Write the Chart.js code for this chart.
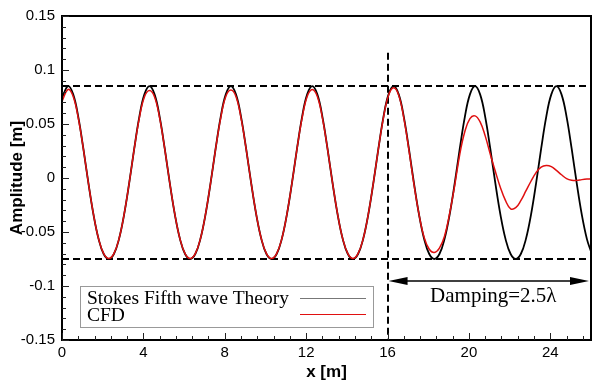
<!DOCTYPE html>
<html>
<head>
<meta charset="utf-8">
<script src="https://cdn.jsdelivr.net/npm/chart.js@4.4.1/dist/chart.umd.min.js"></script>
<style>
  html, body { margin: 0; padding: 0; background: #fff; }
</style>
</head>
<body>
<canvas id="chart" width="592" height="387"></canvas>
<script>
// x positions [m] where the wave elevation was read
var xs = [0,
  0.3, 0.55, 0.8, 1.05, 1.3, 1.55, 1.8, 2.05, 2.3, 2.55, 2.8, 3.05, 3.3, 3.55, 3.8, 4.05,
  4.3, 4.55, 4.8, 5.05, 5.3, 5.55, 5.8, 6.05, 6.3, 6.55, 6.8, 7.05, 7.3, 7.55, 7.8, 8.05,
  8.3, 8.55, 8.8, 9.05, 9.3, 9.55, 9.8, 10.05, 10.3, 10.55, 10.8, 11.05, 11.3, 11.55, 11.8, 12.05,
  12.3, 12.55, 12.8, 13.05, 13.3, 13.55, 13.8, 14.05, 14.3, 14.55, 14.8, 15.05, 15.3, 15.55, 15.8, 16.05,
  16.3, 16.55, 16.8, 17.05, 17.3, 17.55, 17.8, 18.05, 18.3, 18.55, 18.8, 19.05, 19.3, 19.55, 19.8, 20.05,
  20.3, 20.55, 20.8, 21.05, 21.3, 21.55, 21.8, 22.05, 22.3, 22.55, 22.8, 23.05, 23.3, 23.55, 23.8, 24.05,
  24.3, 24.55, 24.8, 25.05, 25.3, 25.55, 25.8, 26];

// Stokes fifth order theory [m]
var stokes = [0.074,
  0.085, 0.0774, 0.0566, 0.0271, -0.005, -0.0341, -0.0566, -0.0704, -0.075, -0.0704, -0.0566, -0.0341, -0.005, 0.0271, 0.0566, 0.0774,
  0.085, 0.0774, 0.0566, 0.0271, -0.005, -0.0341, -0.0566, -0.0704, -0.075, -0.0704, -0.0566, -0.0341, -0.005, 0.0271, 0.0566, 0.0774,
  0.085, 0.0774, 0.0566, 0.0271, -0.005, -0.0341, -0.0566, -0.0704, -0.075, -0.0704, -0.0566, -0.0341, -0.005, 0.0271, 0.0566, 0.0774,
  0.085, 0.0774, 0.0566, 0.0271, -0.005, -0.0341, -0.0566, -0.0704, -0.075, -0.0704, -0.0566, -0.0341, -0.005, 0.0271, 0.0566, 0.0774,
  0.085, 0.0774, 0.0566, 0.0271, -0.005, -0.0341, -0.0566, -0.0704, -0.075, -0.0704, -0.0566, -0.0341, -0.005, 0.0271, 0.0566, 0.0774,
  0.085, 0.0774, 0.0566, 0.0271, -0.005, -0.0341, -0.0566, -0.0704, -0.075, -0.0704, -0.0566, -0.0341, -0.005, 0.0271, 0.0566, 0.0774,
  0.085, 0.0774, 0.0566, 0.0271, -0.005, -0.0341, -0.0566, -0.068];

// CFD result [m]
var cfd = [0.071,
  0.082, 0.0755, 0.0555, 0.027, -0.005, -0.034, -0.0565, -0.070, -0.0745, -0.070, -0.0565, -0.034, -0.005, 0.027, 0.0555, 0.075,
  0.081, 0.075, 0.0555, 0.027, -0.005, -0.034, -0.0565, -0.070, -0.0745, -0.070, -0.0565, -0.034, -0.005, 0.027, 0.0555, 0.0755,
  0.0815, 0.0755, 0.0555, 0.027, -0.005, -0.034, -0.0565, -0.070, -0.0745, -0.070, -0.0565, -0.034, -0.005, 0.027, 0.0555, 0.0755,
  0.082, 0.0755, 0.0555, 0.027, -0.005, -0.034, -0.0565, -0.070, -0.0745, -0.070, -0.0565, -0.034, -0.005, 0.027, 0.056, 0.0765,
  0.0835, 0.0765, 0.0555, 0.026, -0.006, -0.034, -0.055, -0.066, -0.069, -0.065, -0.054, -0.033, -0.007, 0.022, 0.043, 0.055,
  0.0575, 0.052, 0.039, 0.022, 0.006, -0.009, -0.021, -0.0285, -0.0275, -0.021, -0.012, -0.003, 0.005, 0.010, 0.0115, 0.0105,
  0.007, 0.003, -0.0005, -0.002, -0.0022, -0.0015, -0.001, -0.0008];

var xTicks = [0, 4, 8, 12, 16, 20, 24];
var yTicks = [-0.15, -0.1, -0.05, 0, 0.05, 0.1, 0.15];
var yTickLabels = ['-0.15', '-0.1', '-0.05', '0', '0.05', '0.1', '0.15'];

var crestLevel = 0.085;
var troughLevel = -0.075;
var dampStart = 16;
var dampEnd = 26;
var dampLabel = 'Damping=2.5\u03bb';

function toPoints(ys) {
  return xs.map(function(x, i) { return {x: x, y: ys[i]}; });
}

var decorations = {
  id: 'decorations',
  beforeDatasetsDraw: function(chart) {
    var ctx = chart.ctx, a = chart.chartArea;
    var sx = chart.scales.x, sy = chart.scales.y;
    ctx.save();
    ctx.strokeStyle = '#000';
    ctx.lineWidth = 2;
    ctx.setLineDash([7, 4]);
    [crestLevel, troughLevel].forEach(function(v) {
      var py = Math.round(sy.getPixelForValue(v));
      ctx.beginPath();
      ctx.moveTo(a.left, py);
      ctx.lineTo(a.right, py);
      ctx.stroke();
    });
    var px = Math.round(sx.getPixelForValue(dampStart));
    ctx.beginPath();
    ctx.moveTo(px, sy.getPixelForValue(0.116));
    ctx.lineTo(px, a.bottom);
    ctx.stroke();
    ctx.restore();
  },
  afterDatasetsDraw: function(chart) {
    var ctx = chart.ctx, a = chart.chartArea;
    var sx = chart.scales.x, sy = chart.scales.y;
    ctx.save();

    // double arrow for damping zone
    var ay = Math.round(sy.getPixelForValue(-0.095));
    var x0 = sx.getPixelForValue(dampStart) + 1;
    var x1 = sx.getPixelForValue(dampEnd) - 2;
    ctx.strokeStyle = '#000';
    ctx.fillStyle = '#000';
    ctx.lineWidth = 1.5;
    ctx.beginPath();
    ctx.moveTo(x0 + 10, ay);
    ctx.lineTo(x1 - 10, ay);
    ctx.stroke();
    ctx.beginPath();
    ctx.moveTo(x0, ay);
    ctx.lineTo(x0 + 19, ay - 4);
    ctx.lineTo(x0 + 19, ay + 4);
    ctx.closePath();
    ctx.fill();
    ctx.beginPath();
    ctx.moveTo(x1, ay);
    ctx.lineTo(x1 - 19, ay - 4);
    ctx.lineTo(x1 - 19, ay + 4);
    ctx.closePath();
    ctx.fill();

    ctx.font = '21px "Liberation Serif"';
    ctx.textAlign = 'center';
    ctx.textBaseline = 'alphabetic';
    ctx.fillText(dampLabel, sx.getPixelForValue(21.2), sy.getPixelForValue(-0.115));

    // legend box
    var lx = a.left + 18, ly = a.top + 270;
    ctx.fillStyle = '#fff';
    ctx.fillRect(lx, ly, 293, 41);
    ctx.strokeStyle = '#999';
    ctx.lineWidth = 1;
    ctx.strokeRect(lx + 0.5, ly + 0.5, 293, 41);
    ctx.fillStyle = '#000';
    ctx.textAlign = 'left';
    ctx.font = '19.5px "Liberation Serif"';
    ctx.fillText(chart.data.datasets[1].label, lx + 7, ly + 18);
    ctx.fillText(chart.data.datasets[0].label, lx + 7, ly + 35);
    ctx.lineWidth = 1;
    ctx.strokeStyle = '#777';
    ctx.beginPath();
    ctx.moveTo(lx + 220, ly + 12.5);
    ctx.lineTo(lx + 286, ly + 12.5);
    ctx.stroke();
    ctx.strokeStyle = '#e01010';
    ctx.beginPath();
    ctx.moveTo(lx + 220, ly + 28.5);
    ctx.lineTo(lx + 286, ly + 28.5);
    ctx.stroke();

    // frame
    ctx.strokeStyle = '#000';
    ctx.lineWidth = 2;
    ctx.strokeRect(a.left, a.top, a.right - a.left, a.bottom - a.top);

    // inward ticks, major and minor
    ctx.lineWidth = 1;
    ctx.strokeStyle = '#222';
    var i, v, p;
    for (i = 0; i <= 32; i++) {
      v = i * 0.8;
      if (v > dampEnd) break;
      p = Math.round(sx.getPixelForValue(v)) + 0.5;
      var major = i % 5 === 0;
      ctx.beginPath();
      ctx.moveTo(p, a.bottom);
      ctx.lineTo(p, a.bottom - (major ? 7 : 4));
      ctx.stroke();
    }
    for (i = -15; i <= 15; i++) {
      p = Math.round(sy.getPixelForValue(i / 100)) + 0.5;
      var majorY = i % 5 === 0;
      ctx.beginPath();
      ctx.moveTo(a.left, p);
      ctx.lineTo(a.left + (majorY ? 7 : 4), p);
      ctx.stroke();
    }
    ctx.restore();
  }
};

new Chart(document.getElementById('chart'), {
  type: 'line',
  data: {
    datasets: [
      {
        label: 'CFD',
        data: toPoints(cfd),
        borderColor: '#e01010',
        borderWidth: 1.5,
        pointRadius: 0,
        tension: 0.4,
        order: 0
      },
      {
        label: 'Stokes Fifth wave Theory',
        data: toPoints(stokes),
        borderColor: '#000',
        borderWidth: 1.8,
        pointRadius: 0,
        tension: 0.4,
        order: 1
      }
    ]
  },
  options: {
    responsive: false,
    animation: false,
    layout: { padding: { top: 14, right: 1, left: 0, bottom: 0 } },
    plugins: { legend: { display: false }, tooltip: { enabled: false } },
    scales: {
      x: {
        type: 'linear',
        min: 0,
        max: 26,
        afterFit: function(s) { s.height = 47; },
        afterBuildTicks: function(s) { s.ticks = xTicks.map(function(v) { return {value: v}; }); },
        grid: { display: false, drawTicks: false },
        border: { display: false },
        ticks: {
          padding: 4,
          color: '#000',
          font: { family: '"Liberation Sans", Arial, sans-serif', size: 15 },
          maxRotation: 0
        },
        title: {
          display: true,
          text: 'x [m]',
          color: '#000',
          padding: { top: 0, bottom: 4 },
          font: { family: '"Liberation Sans", Arial, sans-serif', size: 17, weight: 'bold' }
        }
      },
      y: {
        type: 'linear',
        min: -0.15,
        max: 0.15,
        afterFit: function(s) { s.width = 62; },
        afterBuildTicks: function(s) { s.ticks = yTicks.map(function(v) { return {value: v}; }); },
        grid: { display: false, drawTicks: false },
        border: { display: false },
        ticks: {
          padding: 7,
          color: '#000',
          font: { family: '"Liberation Sans", Arial, sans-serif', size: 15 },
          callback: function(value, index) { return yTickLabels[index]; }
        },
        title: {
          display: true,
          text: 'Amplitude [m]',
          color: '#000',
          padding: { top: 7, bottom: 0 },
          font: { family: '"Liberation Sans", Arial, sans-serif', size: 17, weight: 'bold' }
        }
      }
    }
  },
  plugins: [decorations]
});
</script>
</body>
</html>
